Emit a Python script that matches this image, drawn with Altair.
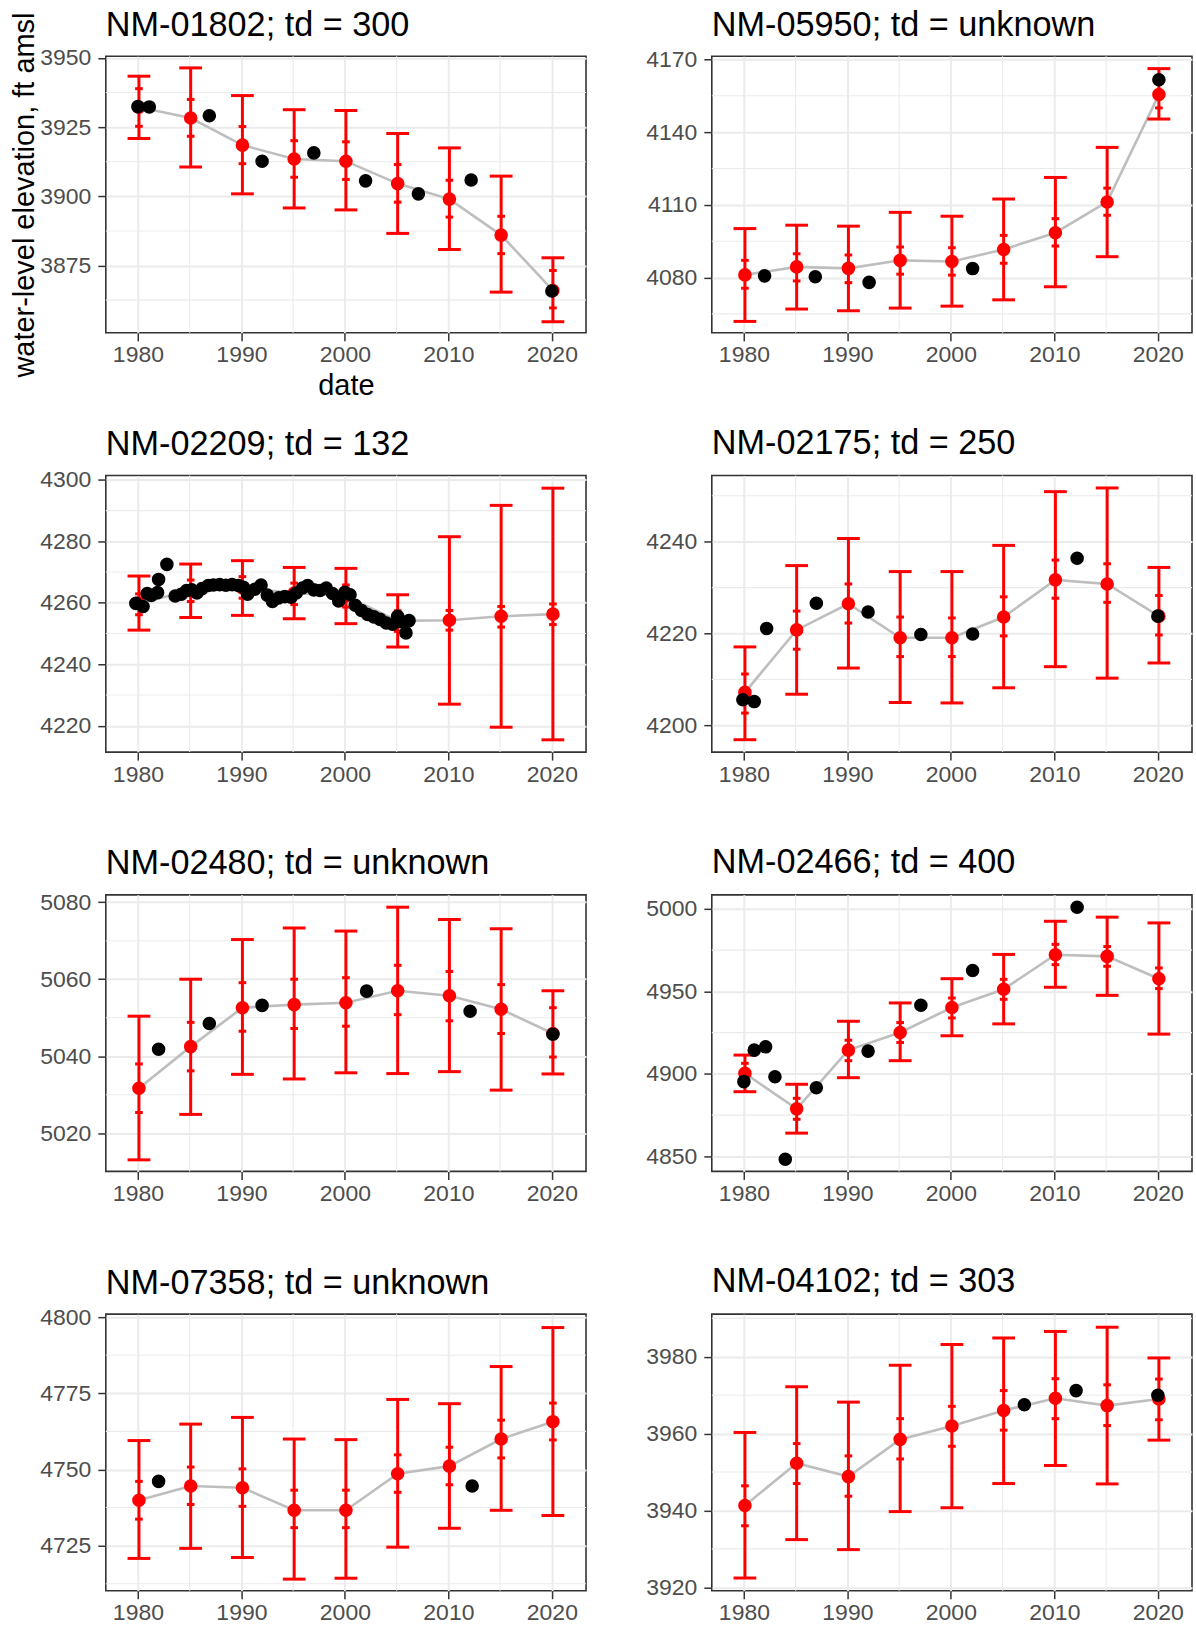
import altair as alt
import pandas as pd

# ---------------- data ----------------
EST_YEARS = [1980.1, 1985.1, 1990.1, 1995.1, 2000.1, 2005.1, 2010.1, 2015.1, 2020.1]
X_TICKS = [1980, 1990, 2000, 2010, 2020]
X_MINOR = [1985, 1995, 2005, 2015]

# NM-01802
P1_TITLE = "NM-01802; td = 300"
P1_EST = [3932.2, 3928.3, 3918.5, 3913.5, 3912.7, 3904.6, 3899.0, 3886.0, 3866.0]
P1_OUT_LO = [3920.9, 3910.6, 3900.9, 3895.8, 3895.1, 3886.6, 3880.8, 3865.4, 3854.7]
P1_OUT_HI = [3943.4, 3946.4, 3936.4, 3931.3, 3931.0, 3922.7, 3917.5, 3907.3, 3877.8]
P1_IN_LO = [3925.3, 3921.7, 3911.8, 3906.9, 3906.1, 3897.9, 3892.5, 3879.3, 3859.7]
P1_IN_HI = [3938.9, 3935.0, 3925.2, 3920.1, 3919.7, 3911.5, 3905.8, 3892.8, 3873.2]
P1_OBS_YEARS = [1980.0, 1981.1, 1986.9, 1992.0, 1997.0, 2002.0, 2007.1, 2012.2, 2020.0]
P1_OBS = [3932.4, 3932.3, 3929.1, 3912.7, 3915.7, 3905.6, 3900.9, 3905.9, 3865.8]
P1_YTICKS = [3875, 3900, 3925, 3950]
P1_YMINOR = [3862.5, 3887.5, 3912.5, 3937.5]

# NM-05950
P2_TITLE = "NM-05950; td = unknown"
P2_EST = [4081.1, 4084.4, 4083.8, 4087.1, 4086.6, 4091.6, 4098.5, 4111.2, 4155.5]
P2_OUT_LO = [4061.9, 4067.0, 4066.3, 4067.4, 4068.2, 4070.8, 4076.2, 4088.6, 4145.4]
P2_OUT_HI = [4100.2, 4101.6, 4101.2, 4106.9, 4105.3, 4112.4, 4121.3, 4133.7, 4166.2]
P2_IN_LO = [4075.6, 4078.6, 4077.9, 4081.4, 4081.0, 4085.9, 4093.0, 4105.7, 4150.0]
P2_IN_HI = [4087.1, 4089.8, 4089.3, 4092.6, 4092.3, 4097.4, 4104.3, 4116.9, 4160.7]
P2_OBS_YEARS = [1982.0, 1986.9, 1992.1, 2002.1, 2020.1]
P2_OBS = [4080.7, 4080.3, 4078.0, 4083.7, 4161.6]
P2_YTICKS = [4080, 4110, 4140, 4170]
P2_YMINOR = [4065, 4095, 4125, 4155]

# NM-02209
P3_TITLE = "NM-02209; td = 132"
P3_EST = [4259.9, 4263.9, 4264.8, 4263.2, 4262.2, 4254.1, 4254.3, 4255.6, 4256.3]
P3_OUT_LO = [4251.1, 4255.2, 4255.9, 4254.8, 4253.2, 4245.6, 4227.0, 4219.5, 4215.4]
P3_OUT_HI = [4268.7, 4272.6, 4273.7, 4271.5, 4271.2, 4262.6, 4281.5, 4291.7, 4297.3]
P3_IN_LO = [4256.1, 4260.4, 4261.5, 4259.4, 4258.6, 4250.7, 4251.1, 4252.1, 4252.9]
P3_IN_HI = [4262.9, 4267.4, 4268.5, 4266.4, 4265.8, 4257.4, 4257.5, 4258.8, 4259.6]
P3_OBS_YEARS = [1979.8, 1980.5, 1980.9, 1981.3, 1981.9, 1982.0, 1982.8, 1983.6, 1984.2,
                1984.7, 1985.2, 1985.7, 1986.2, 1986.8, 1987.3, 1987.9, 1988.5, 1989.1,
                1989.7, 1990.2, 1990.6, 1991.3, 1991.9, 1992.5, 1993.0, 1993.6, 1994.2,
                1994.8, 1995.3, 1995.9, 1996.4, 1997.0, 1997.6, 1998.2, 1998.8, 1999.4,
                2000.0, 2000.5, 2001.0, 2001.6, 2002.2, 2002.8, 2003.4, 2004.0, 2004.6,
                2005.1, 2005.5, 2005.9, 2006.2]
P3_OBS = [4259.8, 4258.8, 4263.0, 4262.4, 4263.3, 4267.6, 4272.5, 4262.2, 4262.8,
          4264.0, 4264.2, 4263.2, 4264.6, 4265.6, 4265.8, 4265.9, 4265.7, 4265.9,
          4265.6, 4265.0, 4262.8, 4264.4, 4265.8, 4262.5, 4260.4, 4261.6, 4262.0,
          4261.8, 4263.2, 4264.8, 4265.6, 4264.2, 4264.0, 4264.8, 4263.0, 4260.6,
          4263.4, 4262.6, 4259.2, 4257.5, 4256.2, 4255.4, 4254.6, 4253.4, 4253.0,
          4255.6, 4253.8, 4250.2, 4254.2]
P3_YTICKS = [4220, 4240, 4260, 4280, 4300]
P3_YMINOR = [4230, 4250, 4270, 4290]

# NM-02175
P4_TITLE = "NM-02175; td = 250"
P4_EST = [4207.2, 4220.8, 4226.5, 4219.1, 4219.1, 4223.6, 4231.7, 4230.8, 4223.8]
P4_OUT_LO = [4196.9, 4206.8, 4212.5, 4205.0, 4204.9, 4208.2, 4212.8, 4210.3, 4213.6]
P4_OUT_HI = [4217.1, 4234.8, 4240.7, 4233.5, 4233.5, 4239.2, 4250.9, 4251.7, 4234.4]
P4_IN_LO = [4202.7, 4216.6, 4222.3, 4215.0, 4215.0, 4219.5, 4227.7, 4226.8, 4219.7]
P4_IN_HI = [4211.2, 4224.9, 4230.8, 4223.6, 4223.4, 4228.0, 4236.0, 4235.2, 4228.3]
P4_OBS_YEARS = [1979.9, 1981.0, 1982.2, 1987.0, 1992.0, 1997.1, 2002.1, 2012.2, 2020.0]
P4_OBS = [4205.6, 4205.2, 4221.1, 4226.6, 4224.7, 4219.8, 4219.9, 4236.4, 4223.8]
P4_YTICKS = [4200, 4220, 4240]
P4_YMINOR = [4210, 4230, 4250]

# NM-02480
P5_TITLE = "NM-02480; td = unknown"
P5_EST = [5031.7, 5042.5, 5052.6, 5053.4, 5053.9, 5057.0, 5055.7, 5052.2, 5045.9]
P5_OUT_LO = [5013.1, 5024.9, 5035.3, 5034.1, 5035.7, 5035.5, 5036.0, 5031.2, 5035.4]
P5_OUT_HI = [5050.4, 5060.0, 5070.3, 5073.3, 5072.5, 5078.7, 5075.5, 5073.1, 5057.0]
P5_IN_LO = [5025.4, 5036.2, 5046.5, 5047.2, 5047.8, 5050.8, 5049.2, 5045.9, 5039.8]
P5_IN_HI = [5038.0, 5048.8, 5059.1, 5060.0, 5060.4, 5063.6, 5062.0, 5058.6, 5052.6]
P5_OBS_YEARS = [1982.0, 1986.9, 1992.0, 2002.1, 2012.1, 2020.1]
P5_OBS = [5041.8, 5048.5, 5053.2, 5056.9, 5051.7, 5045.7]
P5_YTICKS = [5020, 5040, 5060, 5080]
P5_YMINOR = [5030, 5050, 5070]

# NM-02466
P6_TITLE = "NM-02466; td = 400"
P6_EST = [4900.3, 4878.8, 4914.4, 4925.1, 4940.2, 4951.3, 4972.2, 4971.2, 4957.7]
P6_OUT_LO = [4889.2, 4864.1, 4897.7, 4908.0, 4923.1, 4930.3, 4952.5, 4947.6, 4924.1]
P6_OUT_HI = [4911.4, 4893.7, 4931.9, 4943.0, 4957.7, 4972.4, 4992.5, 4995.0, 4991.5]
P6_IN_LO = [4894.3, 4872.5, 4908.0, 4919.0, 4933.9, 4945.2, 4966.2, 4965.2, 4951.7]
P6_IN_HI = [4906.4, 4885.2, 4920.4, 4931.1, 4946.0, 4957.3, 4978.5, 4977.2, 4964.2]
P6_OBS_YEARS = [1980.0, 1981.0, 1982.1, 1983.0, 1984.0, 1987.0, 1992.0, 1997.1, 2002.1, 2012.2]
P6_OBS = [4895.3, 4914.4, 4916.4, 4898.3, 4848.3, 4891.6, 4913.8, 4941.6, 4962.7, 5001.0]
P6_YTICKS = [4850, 4900, 4950, 5000]
P6_YMINOR = [4875, 4925, 4975]

# NM-07358
P7_TITLE = "NM-07358; td = unknown"
P7_EST = [4739.9, 4744.6, 4744.0, 4736.6, 4736.6, 4748.6, 4751.1, 4760.0, 4765.7]
P7_OUT_LO = [4720.8, 4724.1, 4721.1, 4714.0, 4714.3, 4724.5, 4730.7, 4736.6, 4734.9]
P7_OUT_HI = [4759.5, 4764.9, 4767.1, 4760.0, 4759.8, 4773.0, 4771.6, 4783.8, 4796.6]
P7_IN_LO = [4733.7, 4738.5, 4737.9, 4730.9, 4730.9, 4742.5, 4745.0, 4753.8, 4759.7]
P7_IN_HI = [4746.1, 4750.8, 4750.2, 4743.2, 4743.2, 4754.8, 4757.3, 4766.2, 4771.8]
P7_OBS_YEARS = [1982.0, 2012.3]
P7_OBS = [4746.1, 4744.6]
P7_YTICKS = [4725, 4750, 4775, 4800]
P7_YMINOR = [4712.5, 4737.5, 4762.5, 4787.5]

# NM-04102
P8_TITLE = "NM-04102; td = 303"
P8_EST = [3941.3, 3952.3, 3948.8, 3958.5, 3962.0, 3966.0, 3969.2, 3967.3, 3969.0]
P8_OUT_LO = [3922.4, 3932.4, 3929.8, 3939.7, 3940.7, 3947.0, 3951.7, 3946.9, 3958.3]
P8_OUT_HI = [3960.3, 3972.2, 3968.2, 3977.8, 3983.2, 3984.9, 3986.6, 3987.7, 3979.7]
P8_IN_LO = [3936.0, 3947.0, 3943.7, 3953.4, 3956.7, 3960.9, 3963.9, 3962.1, 3963.6]
P8_IN_HI = [3946.4, 3957.4, 3954.2, 3963.9, 3967.1, 3971.2, 3974.3, 3972.7, 3974.2]
P8_OBS_YEARS = [2007.1, 2012.1, 2020.0]
P8_OBS = [3967.5, 3971.2, 3970.0]
P8_YTICKS = [3920, 3940, 3960, 3980]
P8_YMINOR = [3930, 3950, 3970, 3990]

# ---------------- layout / style ----------------
X_DOMAIN = [1976.9, 2023.3]
Y_DOMAINS = [
    [3850.7, 3950.6], [4057.2, 4171.3],
    [4211.4, 4301.4], [4194.2, 4254.4],
    [5010.1, 5081.9], [4840.9, 5008.5],
    [4710.2, 4801.0], [3919.1, 3991.1],
]
# title offsets compensate for how far each panel's axis overhangs the plot top
TITLE_OFFSETS = [-58.3, -21.5, -20.5, -13, -17.5, -13, -21.8, -13]
FONT = "Liberation Sans"
PANEL_W = 481
PANEL_H = 277
OUT_HALF = 1.1
IN_HALF = 0.37
RED = "#FF0000"
GRID = "#EBEBEB"
BAR_W = 3.0
PT_SIZE = 185


def make_axis(values, title, label_pad, title_pad):
    return alt.Axis(
        values=values, format="d", labelFont=FONT, labelFontSize=23,
        labelColor="#4D4D4D", labelPadding=label_pad, labelFlush=False,
        labelOverlap=False, tickSize=8, tickColor="#333333", tickWidth=1.5,
        domain=False, grid=True, gridColor=GRID, gridWidth=2,
        titleFont=FONT, titleFontSize=29, titleFontWeight="normal",
        titleColor="black", titlePadding=title_pad, title=title,
    )


def panel(idx, title, est, olo, ohi, ilo, ihi, obs_years, obs, yticks, yminor,
          xtitle=None, ytitle=None, red_on_top=False):
    est_df = pd.DataFrame({"year": EST_YEARS, "value": est, "olo": olo,
                           "ohi": ohi, "ilo": ilo, "ihi": ihi})
    obs_df = pd.DataFrame({"year": obs_years, "value": obs})
    xminor_df = pd.DataFrame({"m": X_MINOR})
    yminor_df = pd.DataFrame({"m": yminor})

    xs = alt.Scale(domain=X_DOMAIN, nice=False, zero=False)
    ys = alt.Scale(domain=Y_DOMAINS[idx], nice=False, zero=False)
    xa = make_axis(X_TICKS, xtitle, 3, 5)
    ya = make_axis(yticks, ytitle, 7, 0)

    def X(f):
        return alt.X(f, type="quantitative", scale=xs, axis=xa)

    def Y(f):
        return alt.Y(f, type="quantitative", scale=ys, axis=ya)

    xminor = alt.Chart(xminor_df).mark_rule(color=GRID, strokeWidth=1.1).encode(x=X("m"))
    yminor = alt.Chart(yminor_df).mark_rule(color=GRID, strokeWidth=1.1).encode(y=Y("m"))

    base = alt.Chart(est_df)
    line = base.mark_line(color="#BEBEBE", strokeWidth=2.6).encode(x=X("year"), y=Y("value"))
    vbar = base.mark_rule(color=RED, strokeWidth=BAR_W).encode(x=X("year"), y=Y("olo"), y2="ohi")
    caps = base.transform_calculate(
        xl=f"datum.year - {OUT_HALF}", xr=f"datum.year + {OUT_HALF}",
        il=f"datum.year - {IN_HALF}", ir=f"datum.year + {IN_HALF}")
    cap_oh = caps.mark_rule(color=RED, strokeWidth=BAR_W).encode(x=X("xl"), x2="xr", y=Y("ohi"))
    cap_ol = caps.mark_rule(color=RED, strokeWidth=BAR_W).encode(x=X("xl"), x2="xr", y=Y("olo"))
    cap_ih = caps.mark_rule(color=RED, strokeWidth=BAR_W).encode(x=X("il"), x2="ir", y=Y("ihi"))
    cap_il = caps.mark_rule(color=RED, strokeWidth=BAR_W).encode(x=X("il"), x2="ir", y=Y("ilo"))
    red_pts = base.mark_circle(color=RED, opacity=1, size=PT_SIZE).encode(x=X("year"), y=Y("value"))
    blk_pts = alt.Chart(obs_df).mark_circle(color="black", opacity=1, size=PT_SIZE).encode(
        x=X("year"), y=Y("value"))

    layers = [xminor, yminor, line, vbar, cap_oh, cap_ol, cap_ih, cap_il]
    layers += [blk_pts, red_pts] if red_on_top else [red_pts, blk_pts]

    return alt.layer(*layers).properties(
        width=PANEL_W, height=PANEL_H,
        title=alt.TitleParams(text=title, anchor="start", frame="group", font=FONT,
                              fontSize=34.3, fontWeight="normal", color="black",
                              baseline="alphabetic", offset=TITLE_OFFSETS[idx]),
    )


panels = [
    panel(0, P1_TITLE, P1_EST, P1_OUT_LO, P1_OUT_HI, P1_IN_LO, P1_IN_HI,
          P1_OBS_YEARS, P1_OBS, P1_YTICKS, P1_YMINOR,
          xtitle="date", ytitle="water-level elevation, ft amsl"),
    panel(1, P2_TITLE, P2_EST, P2_OUT_LO, P2_OUT_HI, P2_IN_LO, P2_IN_HI,
          P2_OBS_YEARS, P2_OBS, P2_YTICKS, P2_YMINOR, red_on_top=True),
    panel(2, P3_TITLE, P3_EST, P3_OUT_LO, P3_OUT_HI, P3_IN_LO, P3_IN_HI,
          P3_OBS_YEARS, P3_OBS, P3_YTICKS, P3_YMINOR),
    panel(3, P4_TITLE, P4_EST, P4_OUT_LO, P4_OUT_HI, P4_IN_LO, P4_IN_HI,
          P4_OBS_YEARS, P4_OBS, P4_YTICKS, P4_YMINOR),
    panel(4, P5_TITLE, P5_EST, P5_OUT_LO, P5_OUT_HI, P5_IN_LO, P5_IN_HI,
          P5_OBS_YEARS, P5_OBS, P5_YTICKS, P5_YMINOR),
    panel(5, P6_TITLE, P6_EST, P6_OUT_LO, P6_OUT_HI, P6_IN_LO, P6_IN_HI,
          P6_OBS_YEARS, P6_OBS, P6_YTICKS, P6_YMINOR),
    panel(6, P7_TITLE, P7_EST, P7_OUT_LO, P7_OUT_HI, P7_IN_LO, P7_IN_HI,
          P7_OBS_YEARS, P7_OBS, P7_YTICKS, P7_YMINOR),
    panel(7, P8_TITLE, P8_EST, P8_OUT_LO, P8_OUT_HI, P8_IN_LO, P8_IN_HI,
          P8_OBS_YEARS, P8_OBS, P8_YTICKS, P8_YMINOR),
]

chart = alt.concat(
    *panels, columns=2, spacing={"row": 143, "column": 126}, bounds="flush"
).properties(
    padding={"left": 10, "top": 6, "right": 2, "bottom": 2},
    background="white",
).configure_view(stroke="#333333", strokeWidth=1.6)

chart.save("out.html", embed_options={"renderer": "svg", "actions": False})
